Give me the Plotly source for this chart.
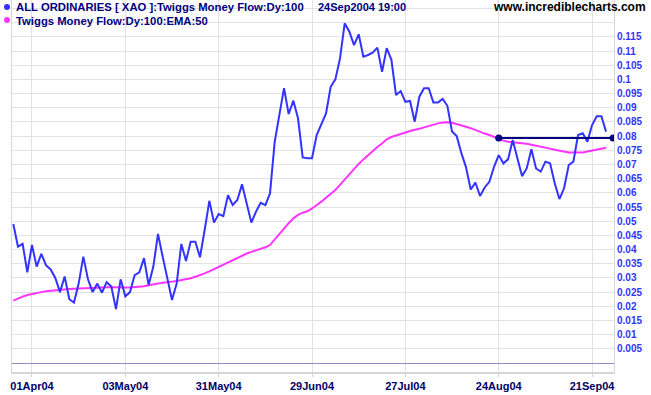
import plotly.graph_objects as go

# ---- data (trading-day index) ----
tmf = [0.0490, 0.0410, 0.0420, 0.0320, 0.0416, 0.0340, 0.0385, 0.0345, 0.0330, 0.0300,
       0.0250, 0.0305, 0.0225, 0.0213, 0.0280, 0.0375, 0.0295, 0.0250, 0.0280, 0.0248,
       0.0285, 0.0270, 0.0190, 0.0295, 0.0235, 0.0250, 0.0310, 0.0320, 0.0370, 0.0275,
       0.0340, 0.0455, 0.0375, 0.0293, 0.0222, 0.0280, 0.0420, 0.0360, 0.0428, 0.0428,
       0.0373, 0.0469, 0.0572, 0.0495, 0.0525, 0.0518, 0.0592, 0.0557, 0.0575, 0.0630,
       0.0565, 0.0495, 0.0534, 0.0565, 0.0557, 0.0598, 0.0780, 0.0874, 0.0969, 0.0878,
       0.0925, 0.0863, 0.0725, 0.0722, 0.0722, 0.0804, 0.0839, 0.0880, 0.0974, 0.1000,
       0.1074, 0.1198, 0.1168, 0.1121, 0.1159, 0.1080, 0.1086, 0.1094, 0.1112, 0.1027,
       0.1110, 0.1070, 0.0945, 0.0959, 0.0921, 0.0924, 0.0851, 0.0939, 0.0969, 0.0969,
       0.0919, 0.0919, 0.0931, 0.0907, 0.0816, 0.0800, 0.0740, 0.0690, 0.0612, 0.0636,
       0.0589, 0.0619, 0.0639, 0.0692, 0.0733, 0.0704, 0.0718, 0.0786, 0.0722, 0.0659,
       0.0686, 0.0754, 0.0686, 0.0675, 0.0710, 0.0704, 0.0634, 0.0578, 0.0616, 0.0698,
       0.0710, 0.0804, 0.0810, 0.0780, 0.0839, 0.0870, 0.0870, 0.0816]

ema = [0.0220, 0.0228, 0.0234, 0.0240, 0.0244, 0.0247, 0.0250, 0.0253, 0.0255, 0.0257,
       0.0258, 0.0260, 0.0261, 0.0262, 0.0263, 0.0264, 0.0265, 0.0265, 0.0266, 0.0266,
       0.0267, 0.0267, 0.0266, 0.0266, 0.0266, 0.0266, 0.0267, 0.0269, 0.0271, 0.0274,
       0.0276, 0.0280, 0.0283, 0.0286, 0.0287, 0.0289, 0.0292, 0.0295, 0.0299, 0.0304,
       0.0309, 0.0316, 0.0323, 0.0331, 0.0340, 0.0348, 0.0356, 0.0363, 0.0372, 0.0379,
       0.0386, 0.0392, 0.0397, 0.0402, 0.0408, 0.0416, 0.0436, 0.0456, 0.0475, 0.0493,
       0.0510, 0.0522, 0.0530, 0.0535, 0.0545, 0.0556, 0.0569, 0.0583, 0.0597, 0.0610,
       0.0628, 0.0647, 0.0666, 0.0684, 0.0702, 0.0718, 0.0733, 0.0748, 0.0762, 0.0774,
       0.0789, 0.0797, 0.0803, 0.0808, 0.0813, 0.0818, 0.0821, 0.0826, 0.0831, 0.0836,
       0.0841, 0.0845, 0.0848, 0.0849, 0.0847, 0.0843, 0.0838, 0.0833, 0.0828, 0.0821,
       0.0815, 0.0809, 0.0804, 0.0797, 0.0791, 0.0784, 0.0780, 0.0779, 0.0777, 0.0775,
       0.0773, 0.0770, 0.0767, 0.0764, 0.0760, 0.0756, 0.0752, 0.0748, 0.0744, 0.0742,
       0.0742, 0.0742, 0.0742, 0.0746, 0.0749, 0.0753, 0.0756, 0.0759]

days = list(range(len(tmf)))

trend_x = [104, 128.5]
trend_y = [0.0793, 0.0793]

x_tick_idx = [4, 24, 44, 64, 84, 104, 124]
x_tick_labels = ["01Apr04", "03May04", "31May04", "29Jun04", "27Jul04", "24Aug04", "21Sep04"]

y_tick_vals = [round(0.005 * k, 3) for k in range(1, 26)]
y_tick_labels = [f"{v:g}" if v <= 0.115 else "" for v in y_tick_vals]

FONT = "Liberation Sans, Arial, sans-serif"

fig = go.Figure()
fig.add_trace(go.Scatter(x=days, y=ema, mode="lines",
                         line=dict(color="#ff33ff", width=2), hoverinfo="skip"))
fig.add_trace(go.Scatter(x=days, y=tmf, mode="lines",
                         line=dict(color="#3333ff", width=2), hoverinfo="skip"))
fig.add_trace(go.Scatter(x=trend_x, y=trend_y, mode="lines+markers",
                         line=dict(color="#000080", width=2),
                         marker=dict(color="#000080", size=7), hoverinfo="skip"))

fig.update_layout(
    width=651, height=395,
    margin=dict(l=12, r=37, t=0, b=23),
    paper_bgcolor="white", plot_bgcolor="white",
    showlegend=False,
    font=dict(family=FONT),
    xaxis=dict(range=[-0.28, 128.7], tickvals=x_tick_idx,
               ticktext=[f"<b>{t}</b>" for t in x_tick_labels],
               tickfont=dict(family=FONT, size=11, color="#000066"),
               showgrid=True, gridcolor="#e2e2e2", gridwidth=1,
               ticks="outside", ticklen=3, tickcolor="#d0d0d0",
               showline=True, linecolor="#d6d6d6", linewidth=2,
               zeroline=False, fixedrange=True),
    yaxis=dict(range=[-0.00317, 0.128], side="right",
               tickvals=y_tick_vals,
               ticktext=[f"<b>{t}</b>" if t else "" for t in y_tick_labels],
               tickfont=dict(family=FONT, size=10, color="#3333ff"),
               showgrid=True, gridcolor="#e2e2e2", gridwidth=1,
               ticks="", showline=True, mirror=True, linecolor="#d6d6d6", linewidth=1,
               zeroline=True, zerolinecolor="#8c8cc8", zerolinewidth=1,
               fixedrange=True),
)

def px_x(p):
    return (p - 12) / 602.0

def px_y(p):
    return 1 - p / 372.0

# legend markers
for cy, col in [(7, "#3333ff"), (20, "#ff33ff")]:
    fig.add_shape(type="circle", xref="paper", yref="paper",
                  x0=px_x(4), x1=px_x(10), y0=px_y(cy + 3), y1=px_y(cy - 3),
                  fillcolor=col, line=dict(color=col, width=0))

ann = dict(xref="paper", yref="paper", showarrow=False, xanchor="left", yanchor="middle")
fig.add_annotation(x=px_x(14), y=px_y(7), text="<b>ALL ORDINARIES [ XAO ]:Twiggs Money Flow:Dy:100</b>",
                   font=dict(family=FONT, size=11.3, color="#000080"), **ann)
fig.add_annotation(x=px_x(316), y=px_y(7), text="<b>24Sep2004 19:00</b>",
                   font=dict(family=FONT, size=11, color="#000080"), **ann)
fig.add_annotation(x=px_x(14), y=px_y(21), text="<b>Twiggs Money Flow:Dy:100:EMA:50</b>",
                   font=dict(family=FONT, size=11.3, color="#000080"), **ann)
fig.add_annotation(x=px_x(648), y=px_y(7), text="<b>www.incrediblecharts.com</b>",
                   font=dict(family=FONT, size=12, color="#000000"),
                   xref="paper", yref="paper", showarrow=False, xanchor="right", yanchor="middle")

fig.write_html("out.html", config={"displayModeBar": False},
               post_script="document.body.style.margin='0px';document.body.style.overflow='hidden';")
